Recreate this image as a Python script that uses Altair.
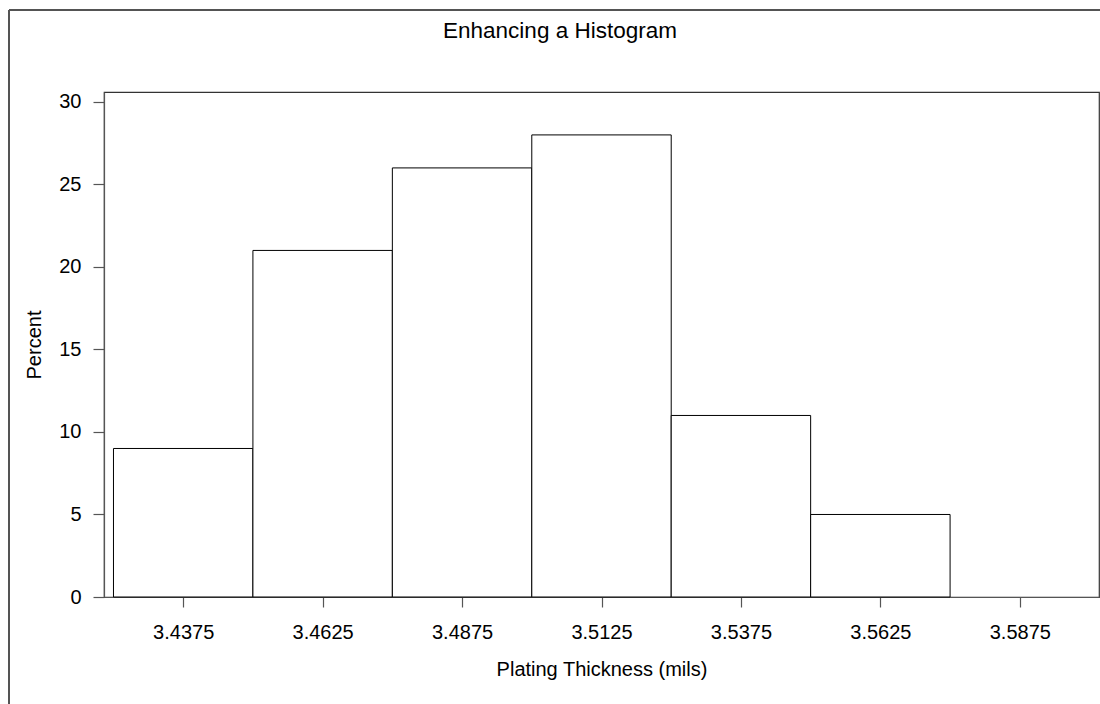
import altair as alt
import pandas as pd

# Histogram of plating thickness: bin midpoints and percent of observations
midpoints = [3.4375, 3.4625, 3.4875, 3.5125, 3.5375, 3.5625, 3.5875]
percents = [9, 21, 26, 28, 11, 5, 0]
bin_width = 0.025
y_ticks = [0, 5, 10, 15, 20, 25, 30]
chart_title = "Enhancing a Histogram"

df = pd.DataFrame({"mid": midpoints, "pct": percents})
df["lo"] = df["mid"] - bin_width / 2
df["hi"] = df["mid"] + bin_width / 2
df["base"] = 0

FONT = "Liberation Sans"
W, H = 995, 505

x_scale = alt.Scale(domain=[3.4233, 3.6017], nice=False, zero=False)
y_scale = alt.Scale(domain=[0, 30.6], nice=False)

bars = alt.Chart(df).transform_filter(
    alt.datum.pct > 0
).mark_rect(
    fill="white", stroke="black", strokeWidth=1
).encode(
    x=alt.X(
        "lo:Q",
        scale=x_scale,
        title="Plating Thickness (mils)",
        axis=alt.Axis(
            values=midpoints,
            format=".4f",
            grid=False,
            tickSize=10,
            labelPadding=15,
            titlePadding=17,
        ),
    ),
    x2="hi:Q",
    y=alt.Y(
        "pct:Q",
        scale=y_scale,
        title="Percent",
        axis=alt.Axis(
            values=y_ticks,
            grid=False,
            tickSize=11,
            labelPadding=12,
            titlePadding=14,
        ),
    ),
    y2="base:Q",
)

# Page border around the figure (top and left edges)
border_top = alt.Chart(df).mark_rule(color="#555", strokeWidth=1.5).encode(
    x=alt.value(-95), x2=alt.value(W + 10), y=alt.value(-82)
)
border_left = alt.Chart(df).mark_rule(color="#555", strokeWidth=1.5).encode(
    x=alt.value(-95), y=alt.value(-82), y2=alt.value(H + 120)
)

# Chart heading above the plot frame
heading = alt.Chart(pd.DataFrame({"t": [chart_title]})).mark_text(
    font=FONT, fontSize=22.5, color="black", align="center", baseline="alphabetic"
).encode(
    text="t:N", x=alt.value(456), y=alt.value(-54)
)

chart = alt.layer(bars, border_top, border_left, heading).properties(
    width=W,
    height=H,
    background="white",
    autosize=alt.AutoSizeParams(type="none"),
    padding={"left": 104, "top": 92, "right": 1, "bottom": 107},
).configure_view(
    stroke="#333", strokeWidth=1.2
).configure_axis(
    labelFont=FONT,
    titleFont=FONT,
    labelFontSize=20,
    titleFontSize=20,
    titleFontWeight="normal",
    labelColor="black",
    titleColor="black",
    domainColor="#555",
    tickColor="#555",
    domainWidth=1.2,
    tickWidth=1.2,
)

chart.save("out.html", embed_options={"renderer": "svg", "actions": False})
